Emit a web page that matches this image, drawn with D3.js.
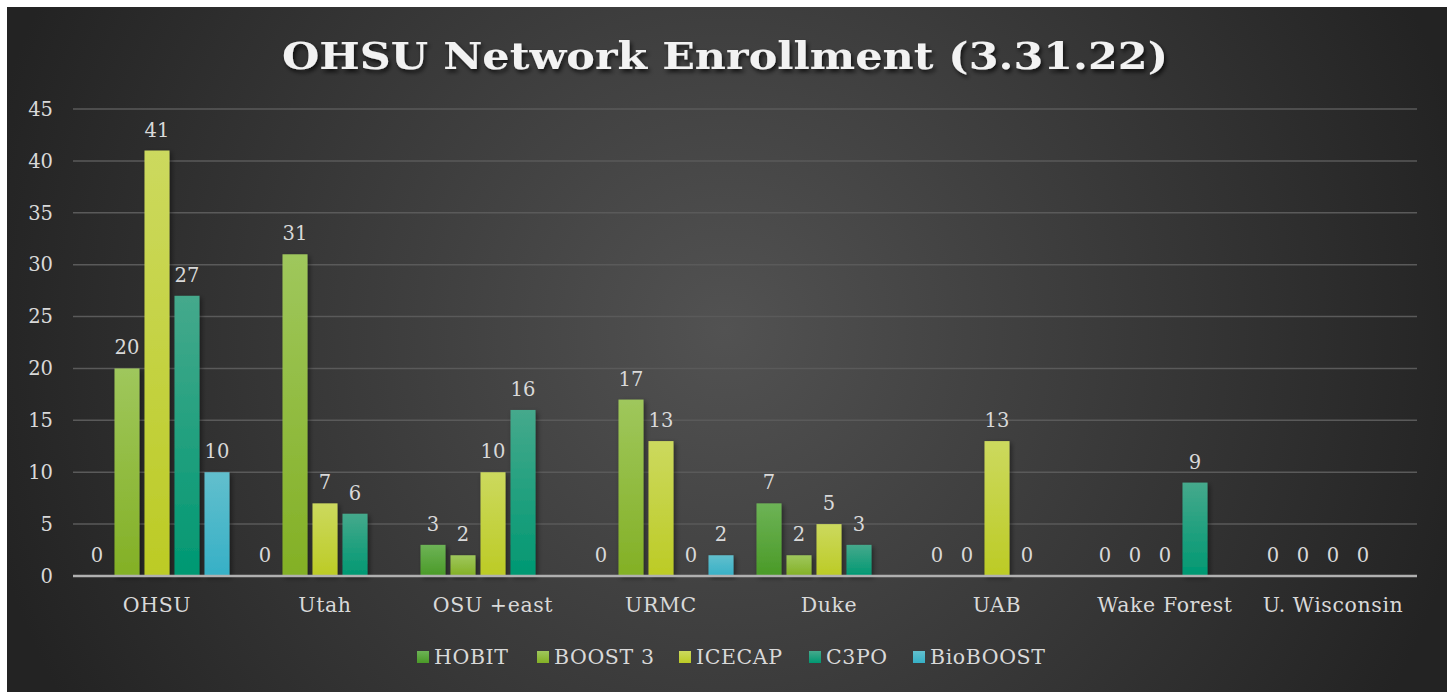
<!DOCTYPE html>
<html>
<head>
<meta charset="utf-8">
<script src="https://cdn.jsdelivr.net/npm/d3@7"></script>
<style>
  html, body { margin: 0; padding: 0; background: #fff; }
  svg { display: block; }
  text { font-family: "DejaVu Serif", Georgia, serif; }
</style>
</head>
<body>
<div id="chart"></div>
<script>
const categories = ["OHSU", "Utah", "OSU +east", "URMC", "Duke", "UAB", "Wake Forest", "U. Wisconsin"];
const seriesNames = ["HOBIT", "BOOST 3", "ICECAP", "C3PO", "BioBOOST"];
const hobit    = [0, 0, 3, 0, 7, 0, 0, 0];
const boost3   = [20, 31, 2, 17, 2, 0, 0, 0];
const icecap   = [41, 7, 10, 13, 5, 13, 0, 0];
const c3po     = [27, 6, 16, 0, 3, 0, 9, 0];
const bioboost = [10, null, null, 2, null, null, null, null];
const yTicks = [0, 5, 10, 15, 20, 25, 30, 35, 40, 45];

const seriesValues = [hobit, boost3, icecap, c3po, bioboost];
// top / bottom colours of each bar gradient
const colors = [
  ["#6db356", "#4a9a27"],
  ["#9fc75c", "#83b025"],
  ["#ccd95e", "#bccb25"],
  ["#45a98c", "#009872"],
  ["#62bfcd", "#36b0c6"]
];

const width = 1450, height = 692;
const margin = { left: 73, right: 33 };
const numSize = 19.5, wordSize = 20.5;

const svg = d3.select("#chart").append("svg")
  .attr("width", width).attr("height", height);

const defs = svg.append("defs");
const bg = defs.append("radialGradient").attr("id", "bg")
  .attr("gradientUnits", "userSpaceOnUse")
  .attr("cx", 725).attr("cy", 330).attr("r", 760);
bg.append("stop").attr("offset", "0%").attr("stop-color", "#525252");
bg.append("stop").attr("offset", "100%").attr("stop-color", "#232323");

colors.forEach((c, i) => {
  const g = defs.append("linearGradient").attr("id", "g" + i)
    .attr("x1", 0).attr("y1", 0).attr("x2", 0).attr("y2", 1);
  g.append("stop").attr("offset", "0%").attr("stop-color", c[0]);
  g.append("stop").attr("offset", "100%").attr("stop-color", c[1]);
});

const shadow = defs.append("filter").attr("id", "shadow")
  .attr("x", "-30%").attr("y", "-10%").attr("width", "160%").attr("height", "130%");
shadow.append("feDropShadow").attr("dx", 2).attr("dy", 2).attr("stdDeviation", 2.5)
  .attr("flood-color", "#000").attr("flood-opacity", 0.45);

const tshadow = defs.append("filter").attr("id", "tshadow");
tshadow.append("feDropShadow").attr("dx", 2).attr("dy", 3).attr("stdDeviation", 2)
  .attr("flood-color", "#000").attr("flood-opacity", 0.7);

svg.append("rect").attr("x", 7).attr("y", 7).attr("width", 1440).attr("height", 685)
  .attr("fill", "url(#bg)");

// title
svg.append("text")
  .attr("x", 725).attr("y", 69)
  .attr("text-anchor", "middle")
  .attr("font-size", 38).attr("font-weight", "bold")
  .attr("fill", "#f2f2f2")
  .attr("textLength", 886).attr("lengthAdjust", "spacingAndGlyphs")
  .attr("filter", "url(#tshadow)")
  .text("OHSU Network Enrollment (3.31.22)");

const x0 = d3.scaleBand().domain(categories)
  .range([margin.left, width - margin.right]).padding(0);
const x1 = d3.scaleBand().domain(seriesNames)
  .range([9, x0.bandwidth() - 9]).paddingInner(1 / 6).paddingOuter(1 / 12);
const y = d3.scaleLinear().domain([0, 45]).range([576, 109]);

// gridlines
svg.append("g")
  .selectAll("line").data(yTicks.filter(d => d > 0)).join("line")
  .attr("x1", margin.left).attr("x2", width - margin.right)
  .attr("y1", d => y(d)).attr("y2", d => y(d))
  .attr("stroke", "#5a5a5a").attr("stroke-width", 1.5);

// y axis
const yAxis = svg.append("g")
  .attr("transform", `translate(${margin.left - 20},0)`)
  .call(d3.axisLeft(y).tickValues(yTicks).tickSize(0).tickPadding(0));
yAxis.select(".domain").remove();
yAxis.selectAll("text")
  .attr("font-size", numSize).attr("fill", "#d9d9d9")
  .attr("font-family", "'DejaVu Serif', Georgia, serif");

// bars
const groups = svg.append("g").selectAll("g").data(categories).join("g")
  .attr("transform", d => `translate(${x0(d)},0)`);

const cells = groups.selectAll("g.cell")
  .data((c, ci) => seriesNames.map((s, si) => ({ s, si, v: seriesValues[si][ci] })))
  .join("g").attr("class", "cell");

cells.filter(d => d.v !== null && d.v > 0).append("rect")
  .attr("x", d => x1(d.s)).attr("width", x1.bandwidth())
  .attr("y", d => y(d.v)).attr("height", d => y(0) - y(d.v))
  .attr("fill", d => `url(#g${d.si})`)
  .attr("filter", "url(#shadow)");

cells.filter(d => d.v !== null).append("text")
  .attr("x", d => x1(d.s) + x1.bandwidth() / 2)
  .attr("y", d => y(d.v) - 14)
  .attr("text-anchor", "middle")
  .attr("font-size", numSize).attr("fill", "#d9d9d9")
  .text(d => d.v);

// x axis baseline
svg.append("line")
  .attr("x1", margin.left).attr("x2", width - margin.right)
  .attr("y1", y(0)).attr("y2", y(0))
  .attr("stroke", "#b0b0b0").attr("stroke-width", 2.5);

const xAxis = svg.append("g")
  .attr("transform", `translate(0,${y(0)})`)
  .call(d3.axisBottom(x0).tickSize(0).tickPadding(21));
xAxis.select(".domain").remove();
xAxis.selectAll("text")
  .attr("font-size", wordSize).attr("fill", "#d9d9d9")
  .attr("letter-spacing", 0.6)
  .attr("font-family", "'DejaVu Serif', Georgia, serif");

// legend
const legendX = [417, 537, 679, 809, 913];
const legend = svg.append("g").selectAll("g").data(seriesNames).join("g")
  .attr("transform", (d, i) => `translate(${legendX[i]},657)`);
legend.append("rect")
  .attr("x", 0).attr("y", -6).attr("width", 12).attr("height", 12)
  .attr("fill", (d, i) => `url(#g${i})`);
legend.append("text")
  .attr("x", 17).attr("y", 7)
  .attr("font-size", wordSize).attr("fill", "#d9d9d9")
  .attr("letter-spacing", 0.6)
  .text(d => d);
</script>
</body>
</html>
